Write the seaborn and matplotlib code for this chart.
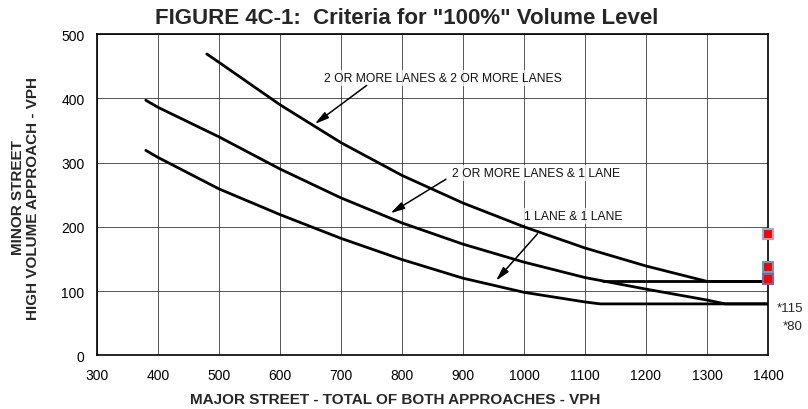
import matplotlib
matplotlib.use("Agg")
import matplotlib.pyplot as plt
import seaborn as sns
import pandas as pd

# ---- data ----
major_22 = [480, 500, 600, 700, 800, 900, 1000, 1100, 1200, 1300, 1400]
minor_22 = [469, 456, 390, 331, 280, 237, 200, 167, 139, 115, 115]

major_21 = [380, 400, 500, 600, 700, 800, 900, 1000, 1100, 1200, 1300, 1330, 1400]
minor_21 = [397, 386, 340, 290, 245, 206, 173, 145, 121, 103, 86, 80, 80]

major_11 = [380, 400, 500, 600, 700, 800, 900, 1000, 1100, 1125, 1400]
minor_11 = [319, 308, 259, 219, 182, 149, 120, 98, 83, 80, 80]

threshold_major = [1130, 1400]
threshold_minor = [115, 115]

marker_major = [1400, 1400, 1400]
marker_minor = [189, 137, 118]
marker_edges = ["#9AAFD0", "#4BACC6", "#8064A2"]

labels = ["2 OR MORE LANES & 2 OR MORE LANES", "2 OR MORE LANES & 1 LANE", "1 LANE & 1 LANE"]
label_pos = [(867, 432), (1019, 284), (1080, 217)]
arrow_from = [(742, 420), (872, 274), (1022, 189)]
arrow_to = [(657, 360), (781, 221), (954, 116)]

x_ticks = list(range(300, 1401, 100))
y_ticks = list(range(0, 501, 100))

title = 'FIGURE 4C-1:  Criteria for "100%" Volume Level'
xlabel = "MAJOR STREET - TOTAL OF BOTH APPROACHES - VPH"
ylabel = "MINOR STREET\nHIGH VOLUME APPROACH - VPH"

# ---- plotting ----
sns.set_theme(style="white")
plt.rcParams["font.family"] = ["Liberation Sans", "DejaVu Sans"]

fig = plt.figure(figsize=(8.08, 4.10), dpi=100)
ax = fig.add_axes([0.120, 0.131, 0.8305, 0.7835])

ax.set_xlim(300, 1400)
ax.set_ylim(0, 500)
ax.set_xticks(x_ticks)
ax.set_yticks(y_ticks)
ax.grid(True, color="#3a3a3a", linewidth=0.6)
ax.set_axisbelow(True)
for s in ax.spines.values():
    s.set_color("black")
    s.set_linewidth(1.2)
ax.tick_params(axis="both", length=0, labelsize=10, colors="black")
ax.tick_params(axis="x", pad=9)
ax.tick_params(axis="y", pad=9)

curves = [(major_22, minor_22), (major_21, minor_21), (major_11, minor_11),
          (threshold_major, threshold_minor)]
for mx, my in curves:
    df = pd.DataFrame({"major": mx, "minor": my})
    sns.lineplot(data=df, x="major", y="minor", ax=ax, color="black",
                 linewidth=2.0, sort=False, estimator=None)

for mx, my, ec in zip(marker_major, marker_minor, marker_edges):
    ax.plot([mx], [my], marker="s", markersize=6.5, markerfacecolor="red",
            markeredgecolor=ec, markeredgewidth=1.5, linestyle="none",
            clip_on=False, zorder=5)

for lab, (lx, ly), (fx, fy), (tx, ty) in zip(labels, label_pos, arrow_from, arrow_to):
    ax.text(lx, ly, lab, fontsize=8.7, ha="center", va="center", color="#111111",
            bbox=dict(facecolor="white", edgecolor="none", alpha=0.75, pad=1.5))
    ax.annotate("", xy=(tx, ty), xytext=(fx, fy),
                arrowprops=dict(arrowstyle="-|>,head_length=0.7,head_width=0.18",
                                color="black", lw=1.1, shrinkA=0, shrinkB=0))

ax.set_xlabel("")
ax.set_ylabel("")

fig.text(407 / 808, 1 - 19 / 410, title, ha="center", va="center", fontsize=16,
         fontweight="bold")
fig.text(395.5 / 808, 1 - 400 / 410, xlabel, ha="center", va="center", fontsize=11,
         fontweight="bold")
fig.text(25.5 / 808, 1 - 198 / 410, ylabel, ha="center", va="center", rotation=90,
         fontsize=11, fontweight="bold", linespacing=1.1)

fig.text(776.5 / 808, 1 - 309 / 410, "*115", ha="left", va="center", fontsize=9.5)
fig.text(782.5 / 808, 1 - 327 / 410, "*80", ha="left", va="center", fontsize=9.5)

fig.savefig("out.png", dpi=100)
